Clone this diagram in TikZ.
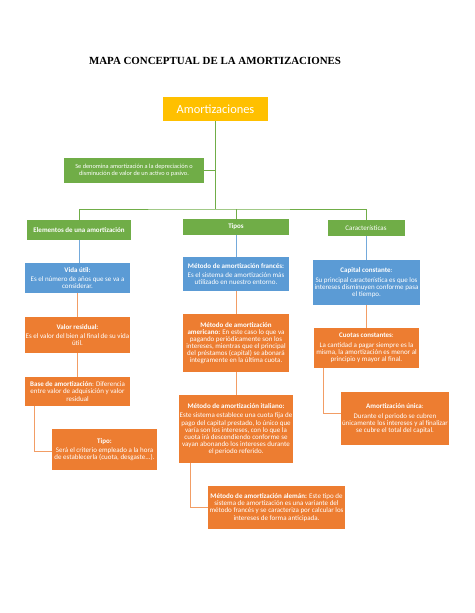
\documentclass[tikz,border=0pt]{standalone}
\usepackage{fontspec}
\setmainfont{Carlito}
\newfontfamily\titlefont{Liberation Serif}
\usetikzlibrary{calc}
\definecolor{boxgreen}{HTML}{70AD47}
\definecolor{boxblue}{HTML}{5B9BD5}
\definecolor{boxorange}{HTML}{ED7D31}
\definecolor{boxyellow}{HTML}{FFC000}
\begin{document}
\begin{tikzpicture}[x=1pt,y=-1pt,
  box/.style={text=white,align=center,inner sep=1pt,font=\fontsize{7}{7.1}\selectfont},
  greenbox/.style={box,fill=boxgreen},
  bluebox/.style={box,fill=boxblue},
  orangebox/.style={box,fill=boxorange},
  gline/.style={draw=boxgreen,line width=0.8pt},
  bline/.style={draw=boxblue!85,line width=0.8pt},
  oline/.style={draw=boxorange!75,line width=0.8pt},
]
\useasboundingbox[fill=white] (0,0) rectangle (474,613);
% title
\node[font=\titlefont\bfseries\fontsize{10.9}{12}\selectfont] (title) at (215,61) {MAPA CONCEPTUAL DE LA AMORTIZACIONES};
\node[box,fill=boxyellow,minimum width=105pt,minimum height=24pt,font=\fontsize{12.4}{14}\selectfont] (amort) at (215.5,109) {Amortizaciones};
\node[greenbox,minimum width=140pt,minimum height=25pt,font=\fontsize{6.3}{7.2}\selectfont] (desc) at (134,170.5)
  {Se denomina amortización a la depreciación o\\disminución de valor de un activo o pasivo.};
\coordinate (hub) at (215.5,209);

% first level
\node[greenbox,minimum width=104pt,minimum height=20pt,font=\bfseries\fontsize{7}{7.1}\selectfont] (elem) at (79,230) {Elementos de una amortización};
\node[greenbox,minimum width=106pt,minimum height=16pt,font=\bfseries\fontsize{7}{7.1}\selectfont] (tipos) at (236,227) {Tipos};
\node[greenbox,minimum width=77pt,minimum height=16pt] (carac) at (366,228) {Características};

% elementos
\node[bluebox,minimum width=105pt,minimum height=30pt] (vida) at (77.5,278)
  {\textbf{Vida útil:}\\[2.5pt] Es el número de años que se va a\\considerar.};
\node[orangebox,minimum width=105pt,minimum height=36pt] (valor) at (77.5,335)
  {\textbf{Valor residual:}\\[2.5pt] Es el valor del bien al final de su vida\\útil.};
\node[orangebox,minimum width=105pt,minimum height=29pt] (base) at (77.5,391.5)
  {\textbf{Base de amortización}: Diferencia\\entre valor de adquisición y valor\\residual};
\node[orangebox,minimum width=105pt,minimum height=41pt] (tipo) at (104.5,449.5)
  {\textbf{Tipo:}\\[2.5pt] Será el criterio empleado a la hora\\de establecerla (cuota, desgaste...).};

% tipos
\node[bluebox,minimum width=106pt,minimum height=34pt] (frances) at (236,274)
  {\textbf{Método de amortización francés:}\\[2.5pt] Es el sistema de amortización más\\utilizado en nuestro entorno.};
\node[orangebox,minimum width=106pt,minimum height=58pt] (americano) at (236,343)
  {\textbf{Método de amortización}\\\textbf{americano:} En este caso lo que va\\pagando periódicamente son los\\intereses, mientras que el principal\\del préstamos (capital) se abonará\\íntegramente en la última cuota.};
\node[orangebox,minimum width=114pt,minimum height=68pt] (italiano) at (236,429)
  {\textbf{Método de amortización italiano:}\\[2.5pt] Este sistema establece una cuota fija de\\pago del capital prestado, lo único que\\varía son los intereses, con lo que la\\cuota irá descendiendo conforme se\\vayan abonando los intereses durante\\el periodo referido.};
\node[orangebox,minimum width=137pt,minimum height=43pt] (aleman) at (276.5,507.5)
  {\textbf{Método de amortización alemán:} Este tipo de\\sistema de amortización es una variante del\\método francés y se caracteriza por calcular los\\intereses de forma anticipada.};

% caracteristicas
\node[bluebox,minimum width=107pt,minimum height=45pt] (capital) at (366.5,282.5)
  {\textbf{Capital constante}:\\[2.5pt] Su principal característica es que los\\intereses disminuyen conforme pasa\\el tiempo.};
\node[orangebox,minimum width=105pt,minimum height=40pt] (cuotas) at (366.5,348)
  {\textbf{Cuotas constantes}:\\[2.5pt] La cantidad a pagar siempre es la\\misma, la amortización es menor al\\principio y mayor al final.};
\node[orangebox,minimum width=108pt,minimum height=53pt] (unica) at (395,418.5)
  {\textbf{Amortización única}:\\[2.5pt] Durante el periodo se cubren\\únicamente los intereses y al finalizar\\se cubre el total del capital.};

% connectors
\draw[gline] (amort.south) -- (hub);
\draw[gline] (desc.east) -- (desc.east -| hub);
\draw[gline] (elem.north) |- (hub) -| (carac.north);
\draw[gline] (tipos.north) -- (tipos.north |- hub);
\draw[bline] (elem.south) -- (vida.north -| elem.south);
\draw[bline] (tipos.south) -- (frances.north);
\draw[bline] (carac.south) -- (capital.north -| carac.south);
\draw[oline] (vida.south) -- (valor.north);
\draw[oline] (valor.south) -- (base.north);
\draw[oline] ([xshift=10pt]base.south west) |- ([yshift=-2pt]tipo.west);
\draw[oline] (frances.south) -- (americano.north);
\draw[oline] (americano.south) -- (italiano.north);
\draw[oline] ([xshift=12pt]italiano.south west) |- (aleman.west);
\draw[oline] (capital.south) -- (cuotas.north);
\draw[oline] ([xshift=10pt]cuotas.south west) |- ([yshift=5pt]unica.west);
\end{tikzpicture}
\end{document}
